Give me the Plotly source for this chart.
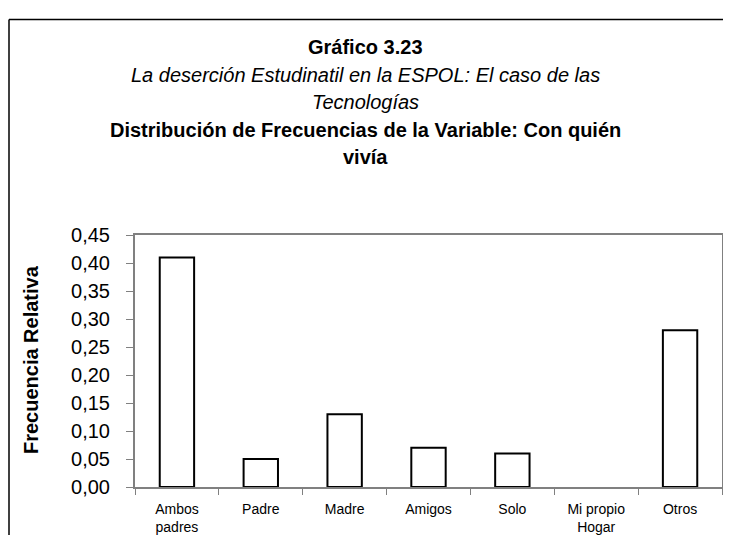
import plotly.graph_objects as go

categories = ["Ambos<br>padres", "Padre", "Madre", "Amigos", "Solo", "Mi propio<br>Hogar", "Otros"]
values = [0.41, 0.05, 0.13, 0.07, 0.06, 0.0, 0.28]
y_ticks = [0.00, 0.05, 0.10, 0.15, 0.20, 0.25, 0.30, 0.35, 0.40, 0.45]

W, H = 731, 539
OFF = 8  # default page body margin in the browser
L, R, T, B = 135 - OFF, 722 - OFF, 235 - OFF, 497 - OFF

def px_x(x):
    return (x - OFF - L) / (R - L)

def px_y(y):
    return (B - (y - OFF)) / (B - T)

fig = go.Figure(go.Bar(
    x=categories, y=values, width=0.41,
    marker=dict(color="white",
                line=dict(color="black", width=[2 if v > 0 else 0 for v in values])),
))

font = "Liberation Sans, Arial, sans-serif"
title_lines = [
    ("<b>Gráfico 3.23</b>", 40),
    ("<i>La deserción Estudinatil en la ESPOL: El caso de las</i>", 68.5),
    ("<i>Tecnologías</i>", 97),
    ("<b>Distribución de Frecuencias de la Variable: Con quién</b>", 125.5),
    ("<b>vivía</b>", 154),
]
anns = []
for txt, yy in title_lines:
    anns.append(dict(text=txt, xref="paper", yref="paper", x=px_x(365), y=px_y(yy),
                     xanchor="center", yanchor="middle", showarrow=False,
                     font=dict(family=font, size=20, color="black")))
anns.append(dict(text="<b>Frecuencia Relativa</b>", xref="paper", yref="paper",
                 x=px_x(31), y=px_y(365), textangle=-90, xanchor="center", yanchor="middle",
                 showarrow=False, font=dict(family=font, size=20, color="black")))

frame = dict(color="black", width=1.5)
fig.update_layout(
    width=W, height=H,
    margin=dict(l=L, r=W - R, t=T, b=H - B, pad=0),
    paper_bgcolor="white", plot_bgcolor="white",
    separators=",.",
    showlegend=False,
    annotations=anns,
    shapes=[
        dict(type="line", xref="paper", yref="paper", x0=px_x(9), x1=px_x(9),
             y0=px_y(H + OFF), y1=px_y(11), line=frame),
        dict(type="line", xref="paper", yref="paper", x0=px_x(9), x1=px_x(W + OFF),
             y0=px_y(11), y1=px_y(11), line=frame),
    ],
    font=dict(family=font, color="black"),
)
fig.update_xaxes(
    type="category", tickson="boundaries", ticks="outside", ticklen=6, tickwidth=1,
    tickcolor="#808080", showline=True, linecolor="#808080", linewidth=2, mirror=True,
    showgrid=False, zeroline=False, tickfont=dict(family=font, size=14, color="black"),
    layer="below traces", ticklabelstandoff=8,
)
fig.update_yaxes(
    range=[0, 0.45], tickvals=y_ticks, tickformat=".2f", ticks="outside", ticklen=7,
    tickwidth=1, tickcolor="#808080", showline=True, linecolor="#808080", linewidth=2,
    mirror=True, showgrid=False, zeroline=False,
    tickfont=dict(family=font, size=20, color="black"), layer="below traces",
    ticklabelstandoff=12,
)

fig.write_html("out.html", config={"displayModeBar": False})
